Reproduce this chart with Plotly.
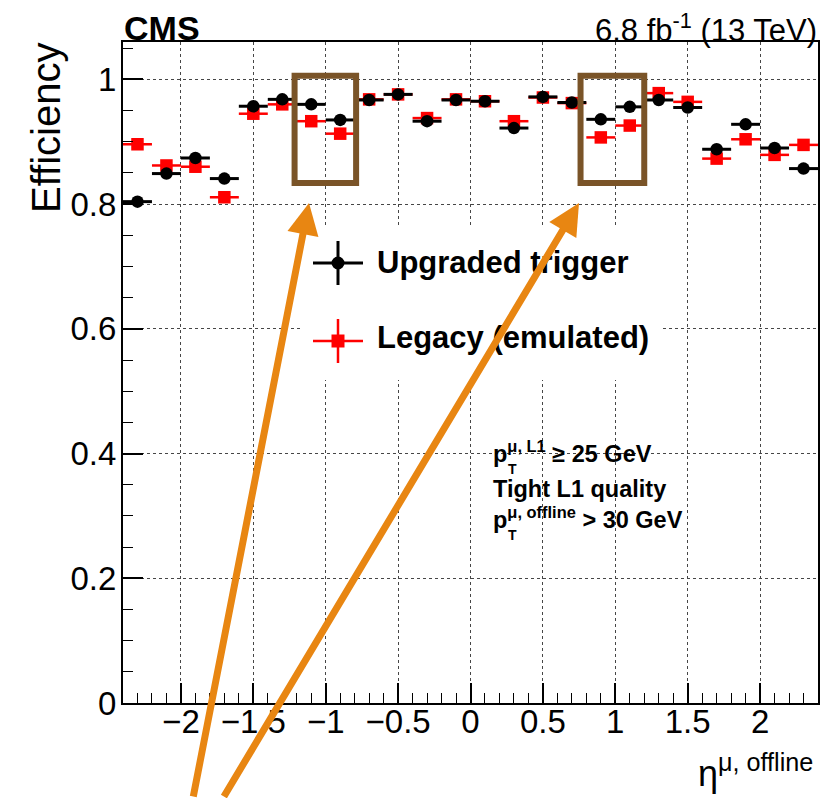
import plotly.graph_objects as go

# ---------------- data ----------------
eta_centers = [-2.3, -2.1, -1.9, -1.7, -1.5, -1.3, -1.1, -0.9, -0.7, -0.5, -0.3, -0.1,
               0.1, 0.3, 0.5, 0.7, 0.9, 1.1, 1.3, 1.5, 1.7, 1.9, 2.1, 2.3]
bin_width = 0.2
eff_upgraded = [0.804, 0.849, 0.874, 0.841, 0.957, 0.968, 0.960, 0.935, 0.967, 0.976, 0.933, 0.967,
                0.965, 0.922, 0.972, 0.963, 0.936, 0.956, 0.967, 0.955, 0.888, 0.928, 0.890, 0.857]
eff_legacy = [0.896, 0.862, 0.860, 0.811, 0.945, 0.960, 0.933, 0.913, 0.968, 0.976, 0.938, 0.968,
              0.965, 0.933, 0.971, 0.962, 0.907, 0.926, 0.978, 0.964, 0.873, 0.904, 0.879, 0.895]
series_names = ["Upgraded trigger", "Legacy (emulated)"]

x_tickvals = [-2, -1.5, -1, -0.5, 0, 0.5, 1, 1.5, 2]
x_ticktext = ["\u22122", "\u22121.5", "\u22121", "\u22120.5", "0", "0.5", "1", "1.5", "2"]
y_tickvals = [0, 0.2, 0.4, 0.6, 0.8, 1.0]
y_ticktext = ["0", "0.2", "0.4", "0.6", "0.8", "1"]

# highlighted eta regions (boxes) in data units
highlight_x = [(-1.215, -0.79), (0.76, 1.2)]
highlight_y = (0.834, 1.006)

# ---------------- layout geometry ----------------
W_PX, H_PX = 838, 798
L, R, T, B = 123, 818, 42, 703
PW, PH = R - L, B - T
FONT = "Liberation Sans, Arial, Helvetica, sans-serif"


def fx(px):
    return (px - L) / PW


def fy(py):
    return (B - py) / PH


fig = go.Figure()

fig.add_trace(go.Scatter(
    x=eta_centers, y=eff_legacy, mode="markers", name=series_names[1],
    marker=dict(symbol="square", size=12.5, color="#ff0000"),
    error_x=dict(type="constant", value=bin_width / 2, thickness=2.5, width=0, color="#ff0000"),
    showlegend=False))
fig.add_trace(go.Scatter(
    x=eta_centers, y=eff_upgraded, mode="markers", name=series_names[0],
    marker=dict(symbol="circle", size=12.5, color="black"),
    error_x=dict(type="constant", value=bin_width / 2, thickness=3, width=0, color="black"),
    showlegend=False))

shapes = []
# white legend box
shapes.append(dict(type="rect", xref="paper", yref="paper", x0=fx(302), x1=fx(662), y0=fy(380), y1=fy(225),
                   fillcolor="white", line=dict(width=0), layer="above"))
# legend symbols
for (yc, col, lw, sym) in [(263, "black", 3, "circle"), (341, "#ff0000", 2.5, "square")]:
    shapes.append(dict(type="line", xref="paper", yref="paper", x0=fx(313), x1=fx(363), y0=fy(yc), y1=fy(yc),
                       line=dict(color=col, width=lw), layer="above"))
    shapes.append(dict(type="line", xref="paper", yref="paper", x0=fx(338), x1=fx(338), y0=fy(yc - 22), y1=fy(yc + 22),
                       line=dict(color=col, width=lw), layer="above"))
    shapes.append(dict(type="circle" if sym == "circle" else "rect", xref="paper", yref="paper",
                       xsizemode="pixel", ysizemode="pixel", xanchor=fx(338), yanchor=fy(yc),
                       x0=-6.5, x1=6.5, y0=-6.5, y1=6.5, fillcolor=col, line=dict(width=0), layer="above"))
# brown highlight boxes
for (x0, x1) in highlight_x:
    shapes.append(dict(type="rect", xref="x", yref="y", x0=x0, x1=x1, y0=highlight_y[0], y1=highlight_y[1],
                       line=dict(color="rgb(122,84,40)", width=6), fillcolor="rgba(0,0,0,0)", layer="above"))

annotations = []
# CMS label and lumi
annotations.append(dict(xref="paper", yref="paper", x=fx(122), y=fy(28), xanchor="left", yanchor="middle",
                        text="<b>CMS</b>", showarrow=False, font=dict(family=FONT, size=34, color="black")))
annotations.append(dict(xref="paper", yref="paper", x=fx(819), y=fy(28), xanchor="right", yanchor="middle",
                        text="6.8 fb<sup>-1</sup> (13 TeV)", showarrow=False,
                        font=dict(family=FONT, size=31, color="black")))
# axis titles
annotations.append(dict(xref="paper", yref="paper", x=fx(46), y=fy(128), xanchor="center", yanchor="middle",
                        text="Efficiency", textangle=-90, showarrow=False,
                        font=dict(family=FONT, size=40, color="black")))
annotations.append(dict(xref="paper", yref="paper", x=fx(815), y=fy(771), xanchor="right", yanchor="middle",
                        text="\u03b7<sup>\u03bc, offline</sup>", showarrow=False,
                        font=dict(family=FONT, size=36, color="black")))
# legend text
annotations.append(dict(xref="paper", yref="paper", x=fx(375), y=fy(262), xanchor="left", yanchor="middle",
                        text="<b>" + series_names[0] + "</b>", showarrow=False,
                        font=dict(family=FONT, size=31, color="black")))
annotations.append(dict(xref="paper", yref="paper", x=fx(375), y=fy(337), xanchor="left", yanchor="middle",
                        text="<b>" + series_names[1] + "</b>", showarrow=False,
                        font=dict(family=FONT, size=31, color="black")))
# selection text
sel_font = dict(family=FONT, size=23.5, color="black")
annotations.append(dict(xref="paper", yref="paper", x=fx(491), y=fy(452), xanchor="left", yanchor="middle",
                        text="<b>p<sup>\u03bc, L1</sup> \u2265 25 GeV</b>", showarrow=False, font=sel_font))
annotations.append(dict(xref="paper", yref="paper", x=fx(491), y=fy(489), xanchor="left", yanchor="middle",
                        text="<b>Tight L1 quality</b>", showarrow=False, font=sel_font))
annotations.append(dict(xref="paper", yref="paper", x=fx(491), y=fy(518), xanchor="left", yanchor="middle",
                        text="<b>p<sup>\u03bc, offline</sup> > 30 GeV</b>", showarrow=False, font=sel_font))
for yc in (469, 535):
    annotations.append(dict(xref="paper", yref="paper", x=fx(506), y=fy(yc), xanchor="left", yanchor="middle",
                            text="<b>T</b>", showarrow=False, font=dict(family=FONT, size=14, color="black")))
# orange arrows (drawn last, on top)
for (tip, tail) in [((309, 203), (193, 798)), ((579, 203), (223, 798))]:
    annotations.append(dict(xref="paper", yref="paper", x=fx(tip[0]), y=fy(tip[1]),
                            ax=tail[0] - tip[0], ay=tail[1] - tip[1], axref="pixel", ayref="pixel",
                            text="", showarrow=True, arrowhead=2, arrowsize=0.9, arrowwidth=7,
                            arrowcolor="rgb(232,134,18)", standoff=0))

axis_common = dict(
    showline=True, linecolor="black", linewidth=2, mirror=True,
    ticks="inside", ticklen=20, tickwidth=1.5, tickcolor="black",
    showgrid=True, gridcolor="rgb(70,70,70)", gridwidth=1, griddash="dot",
    zeroline=False, automargin=False,
    tickfont=dict(family=FONT, size=33, color="black"),
)

fig.update_layout(
    width=W_PX, height=H_PX,
    margin=dict(l=L, r=W_PX - R, t=T, b=H_PX - B, pad=0),
    paper_bgcolor="white", plot_bgcolor="white",
    template="none",
    showlegend=False,
    xaxis=dict(range=[-2.4, 2.4], tickmode="array", tickvals=x_tickvals, ticktext=x_ticktext,
               ticklabelstandoff=-12,
               minor=dict(dtick=0.1, tick0=0, ticks="inside", ticklen=10, tickwidth=1.2, tickcolor="black",
                          showgrid=False),
               **axis_common),
    yaxis=dict(range=[0, 1.06], tickmode="array", tickvals=y_tickvals, ticktext=y_ticktext,
               ticklabelstandoff=-2,
               minor=dict(dtick=0.05, tick0=0, ticks="inside", ticklen=10, tickwidth=1.2, tickcolor="black",
                          showgrid=False),
               **axis_common),
    shapes=shapes,
    annotations=annotations,
)

fig.write_html("out.html", config={"displayModeBar": False},
               post_script="document.body.style.margin='0px';document.body.style.overflow='hidden';")
